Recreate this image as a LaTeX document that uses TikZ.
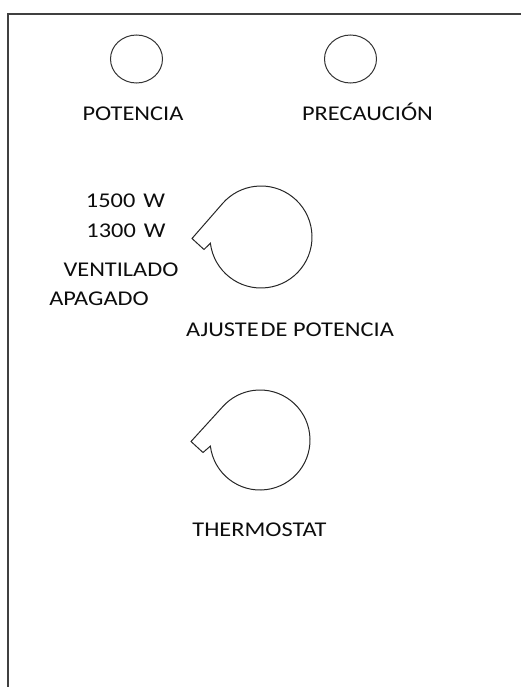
\documentclass[tikz,border=0pt]{standalone}
\usepackage{fontspec}
\setmainfont{Carlito}[FakeStretch = 1.16]
\tikzset{
    label/.style = {anchor = base, inner sep = 0pt, font = \fontsize{21}{24}\selectfont, text = black!95},
    lamp/.style = {line width = 1pt, draw = black!80},
    knob/.style = {line width = 1pt, draw = black!85}
}
\begin{document}
\begin{tikzpicture}[x = 1pt, y = -1pt]
            \useasboundingbox (0, 0) rectangle (521, 687);
            \draw [line width = 2.2pt, black!75] (8, 687) -- (8, 14) -- (521, 14);
            % lamps
            \draw [lamp] (136.5, 59) ellipse [x radius = 26, y radius = 24];
            \draw [lamp] (350.5, 59) ellipse [x radius = 26, y radius = 24];
            \node [label] (potencia) at (133, 120.7) {POTENCIA};
            \node [label] (precaucion) at (367.5, 120.7) {PRECAUCIÓN};
            % knobs
            \foreach \cx/\cy/\r in {261/237/51, 260/440/50}
                \draw [knob] (\cx, \cy) ++(173:\r) arc [start angle = 173, end angle = -138, radius = \r]
                    -- (\cx-69, \cy+1.5) -- (\cx-57, \cy+12.5) -- cycle;
            \node [label] (w1500) at (125.5, 207.3) {1500\hspace{8pt}W};
            \node [label] (w1300) at (126, 237.7) {1300\hspace{8pt}W};
            \node [label] (ventilado) at (121, 276) {VENTILADO};
            \node [label] (apagado) at (99, 305) {APAGADO};
            \node [label] (ajuste) at (290, 336) {AJUSTE\hspace{2pt}DE POTENCIA};
            \node [label] (thermostat) at (259.5, 536.7) {THERMOSTAT};
        \end{tikzpicture}
\end{document}
